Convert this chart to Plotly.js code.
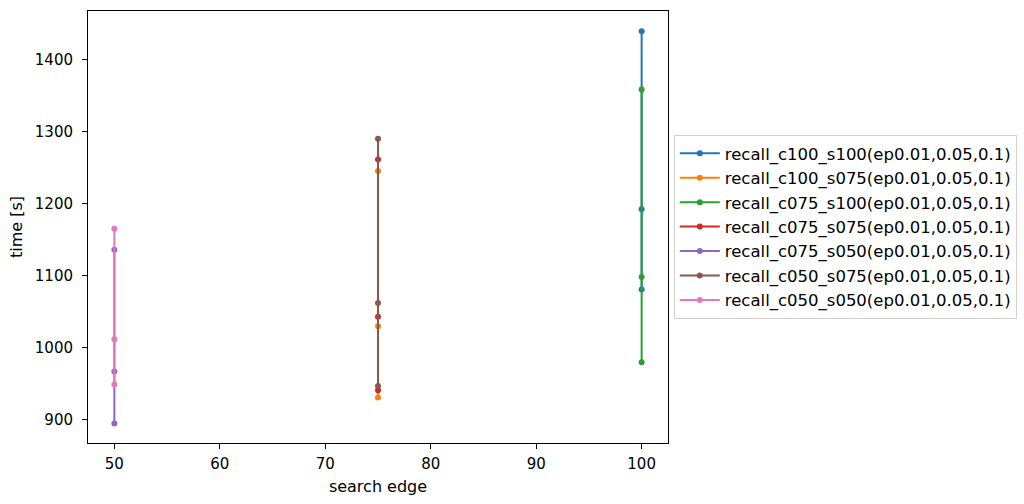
<!DOCTYPE html>
<html>
<head>
<meta charset="utf-8">
<script src="https://cdn.plot.ly/plotly-3.0.1.min.js"></script>
<style>html,body{margin:0;padding:0;background:#fff;}#chart{width:1024px;height:504px;}</style>
</head>
<body>
<div id="chart"></div>
<script>
const seriesNames = [
  "recall_c100_s100(ep0.01,0.05,0.1)",
  "recall_c100_s075(ep0.01,0.05,0.1)",
  "recall_c075_s100(ep0.01,0.05,0.1)",
  "recall_c075_s075(ep0.01,0.05,0.1)",
  "recall_c075_s050(ep0.01,0.05,0.1)",
  "recall_c050_s075(ep0.01,0.05,0.1)",
  "recall_c050_s050(ep0.01,0.05,0.1)"
];
const searchEdge = [100, 75, 100, 75, 50, 75, 50];
const c100_s100 = [1081, 1192, 1439];
const c100_s075 = [931, 1030, 1245];
const c075_s100 = [980, 1098, 1358];
const c075_s075 = [941, 1043, 1261];
const c075_s050 = [895, 967, 1136];
const c050_s075 = [947, 1062, 1290];
const c050_s050 = [949, 1012, 1165];
const seriesValues = [c100_s100, c100_s075, c075_s100, c075_s075, c075_s050, c050_s075, c050_s050];
const colors = ["#1f77b4", "#ff7f0e", "#2ca02c", "#d62728", "#9467bd", "#8c564b", "#e377c2"];

const traces = seriesNames.map((name, i) => ({
  type: "scatter",
  mode: "lines+markers",
  name: name,
  x: seriesValues[i].map(() => searchEdge[i]),
  y: seriesValues[i],
  line: {color: colors[i], width: 2},
  marker: {color: colors[i], size: 6}
}));

const layout = {
  width: 1024,
  height: 504,
  margin: {l: 88, r: 356, t: 11, b: 61, autoexpand: false},
  paper_bgcolor: "#fff",
  plot_bgcolor: "#fff",
  font: {family: "DejaVu Sans", size: 15, color: "#000"},
  showlegend: true,
  legend: {
    xref: "container", x: 0.658, xanchor: "left",
    y: 0.5, yanchor: "middle",
    bordercolor: "#d0d0d0", borderwidth: 1,
    traceorder: "normal",
    itemwidth: 40,
    font: {family: "DejaVu Sans", size: 16.5, color: "#000"}
  },
  xaxis: {
    range: [47.5, 102.5],
    tickvals: [50, 60, 70, 80, 90, 100],
    showgrid: false, zeroline: false,
    showline: true, linecolor: "#000", linewidth: 1, mirror: true,
    ticks: "outside", ticklen: 5, tickcolor: "#000",
    tickfont: {size: 15}, ticklabelstandoff: 2,
    title: {text: "search edge", font: {size: 16}, standoff: 8}
  },
  yaxis: {
    range: [868, 1467],
    tickvals: [900, 1000, 1100, 1200, 1300, 1400],
    showgrid: false, zeroline: false,
    showline: true, linecolor: "#000", linewidth: 1, mirror: true,
    ticks: "outside", ticklen: 5, tickcolor: "#000",
    tickfont: {size: 15}, ticklabelstandoff: 6,
    title: {text: "time [s]", font: {size: 16}, standoff: 8}
  }
};
Plotly.newPlot("chart", traces, layout, {displayModeBar: false, staticPlot: true});
</script>
</body>
</html>
